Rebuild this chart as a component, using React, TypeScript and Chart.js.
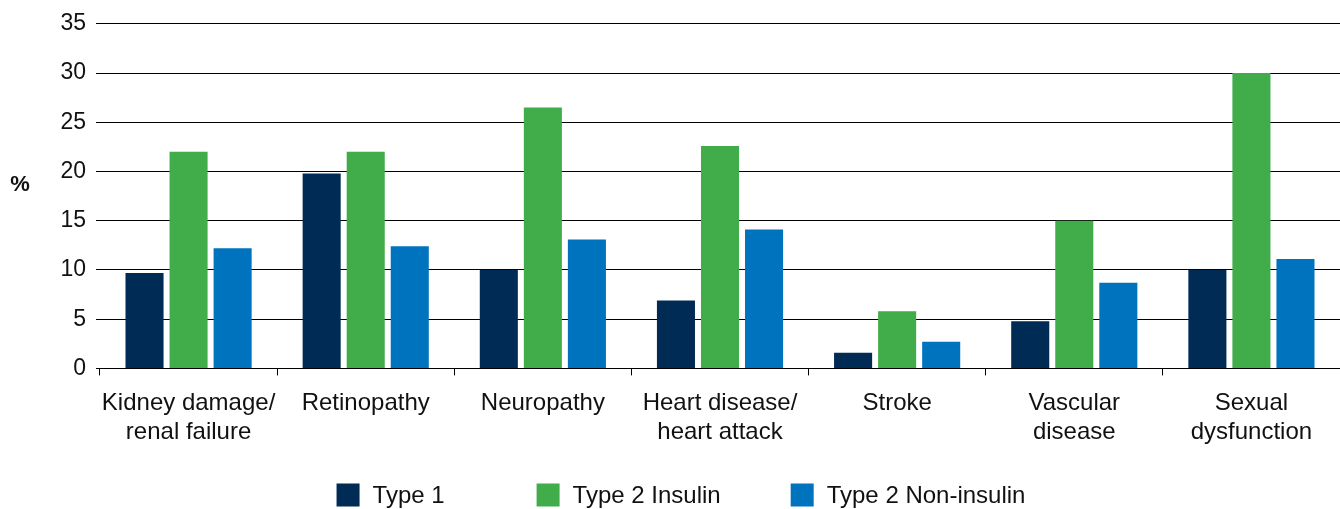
import React, { useEffect, useRef } from "react";
import { Chart, registerables } from "chart.js";

Chart.register(...registerables);

const categories: string[][] = [
  ["Kidney damage/", "renal failure"],
  ["Retinopathy"],
  ["Neuropathy"],
  ["Heart disease/", "heart attack"],
  ["Stroke"],
  ["Vascular", "disease"],
  ["Sexual", "dysfunction"],
];

const type1: number[] = [9.7, 19.8, 10.0, 6.9, 1.6, 4.8, 10.0];
const type2Insulin: number[] = [22.0, 22.0, 26.5, 22.6, 5.8, 15.0, 30.0];
const type2NonInsulin: number[] = [12.2, 12.4, 13.1, 14.1, 2.7, 8.7, 11.1];

const seriesNames: string[] = ["Type 1", "Type 2 Insulin", "Type 2 Non-insulin"];
const seriesColors: string[] = ["#002B55", "#40AD4A", "#0073BF"];

const yMin = 0;
const yMax = 35;
const yStep = 5;
const yTitle = "%";

const FONT = "'Liberation Sans', Arial, Helvetica, sans-serif";

const customPlugin = {
  id: "customDecor",
  afterDraw(chart: any) {
    const ctx = chart.ctx;
    const area = chart.chartArea;
    ctx.save();
    // y-axis title "%"
    ctx.fillStyle = "#111";
    ctx.font = `bold 22px ${FONT}`;
    ctx.textAlign = "center";
    ctx.textBaseline = "middle";
    ctx.fillText(yTitle, 20, (area.top + area.bottom) / 2 - 11);

    // legend
    const boxSize = 23;
    const gapText = 13;
    const itemGaps = [92, 70];
    const legendY = 495;
    ctx.font = `24px ${FONT}`;
    const widths = seriesNames.map((n) => boxSize + gapText + ctx.measureText(n).width);
    const total = widths.reduce((a, b) => a + b, 0) + itemGaps.reduce((a, b) => a + b, 0);
    let x = (chart.width + area.left) / 2 - total / 2 - 39;
    chart.data.datasets.forEach((ds: any, i: number) => {
      ctx.fillStyle = ds.backgroundColor;
      ctx.fillRect(x, legendY - boxSize / 2, boxSize, boxSize);
      ctx.fillStyle = "#111";
      ctx.textAlign = "left";
      ctx.textBaseline = "middle";
      ctx.fillText(ds.label, x + boxSize + gapText, legendY + 1);
      x += widths[i] + (itemGaps[i] || 0);
    });
    ctx.restore();
  },
};

export default function App() {
  const canvasRef = useRef<HTMLCanvasElement | null>(null);

  useEffect(() => {
    document.body.style.margin = "0";
    const canvas = canvasRef.current;
    if (!canvas) return;
    const datasets = [type1, type2Insulin, type2NonInsulin].map((d, i) => ({
      label: seriesNames[i],
      data: d,
      backgroundColor: seriesColors[i],
      borderWidth: 0,
      categoryPercentage: 0.746,
      barPercentage: 0.864,
    }));
    const chart = new Chart(canvas, {
      type: "bar",
      data: { labels: categories as any, datasets },
      options: {
        animation: false,
        responsive: false,
        devicePixelRatio: 1,
        layout: { padding: { top: 11, right: 0, bottom: 48, left: 0 } },
        plugins: {
          legend: { display: false },
          tooltip: { enabled: false },
        },
        scales: {
          x: {
            offset: true,
            grid: {
              offset: true,
              drawOnChartArea: false,
              drawTicks: true,
              tickLength: 7,
              color: "#000",
            },
            border: { display: true, color: "#000", width: 1 },
            ticks: {
              color: "#111",
              font: { family: FONT, size: 24, lineHeight: 1.2 },
              padding: 14,
              maxRotation: 0,
              autoSkip: false,
            },
          },
          y: {
            min: yMin,
            max: yMax,
            afterFit(scale: any) {
              scale.width = 100;
            },
            grid: {
              color: "#000",
              lineWidth: 1,
              drawTicks: true,
              tickLength: 4,
            },
            border: { display: false },
            ticks: {
              stepSize: yStep,
              color: "#111",
              font: { family: FONT, size: 23 },
              padding: 10,
            },
          },
        },
      },
      plugins: [customPlugin],
    });
    return () => chart.destroy();
  }, []);

  return (
    <div style={{ position: "absolute", left: 0, top: 0, width: 1340, height: 509 }}>
      <canvas ref={canvasRef} width={1340} height={509} />
    </div>
  );
}
